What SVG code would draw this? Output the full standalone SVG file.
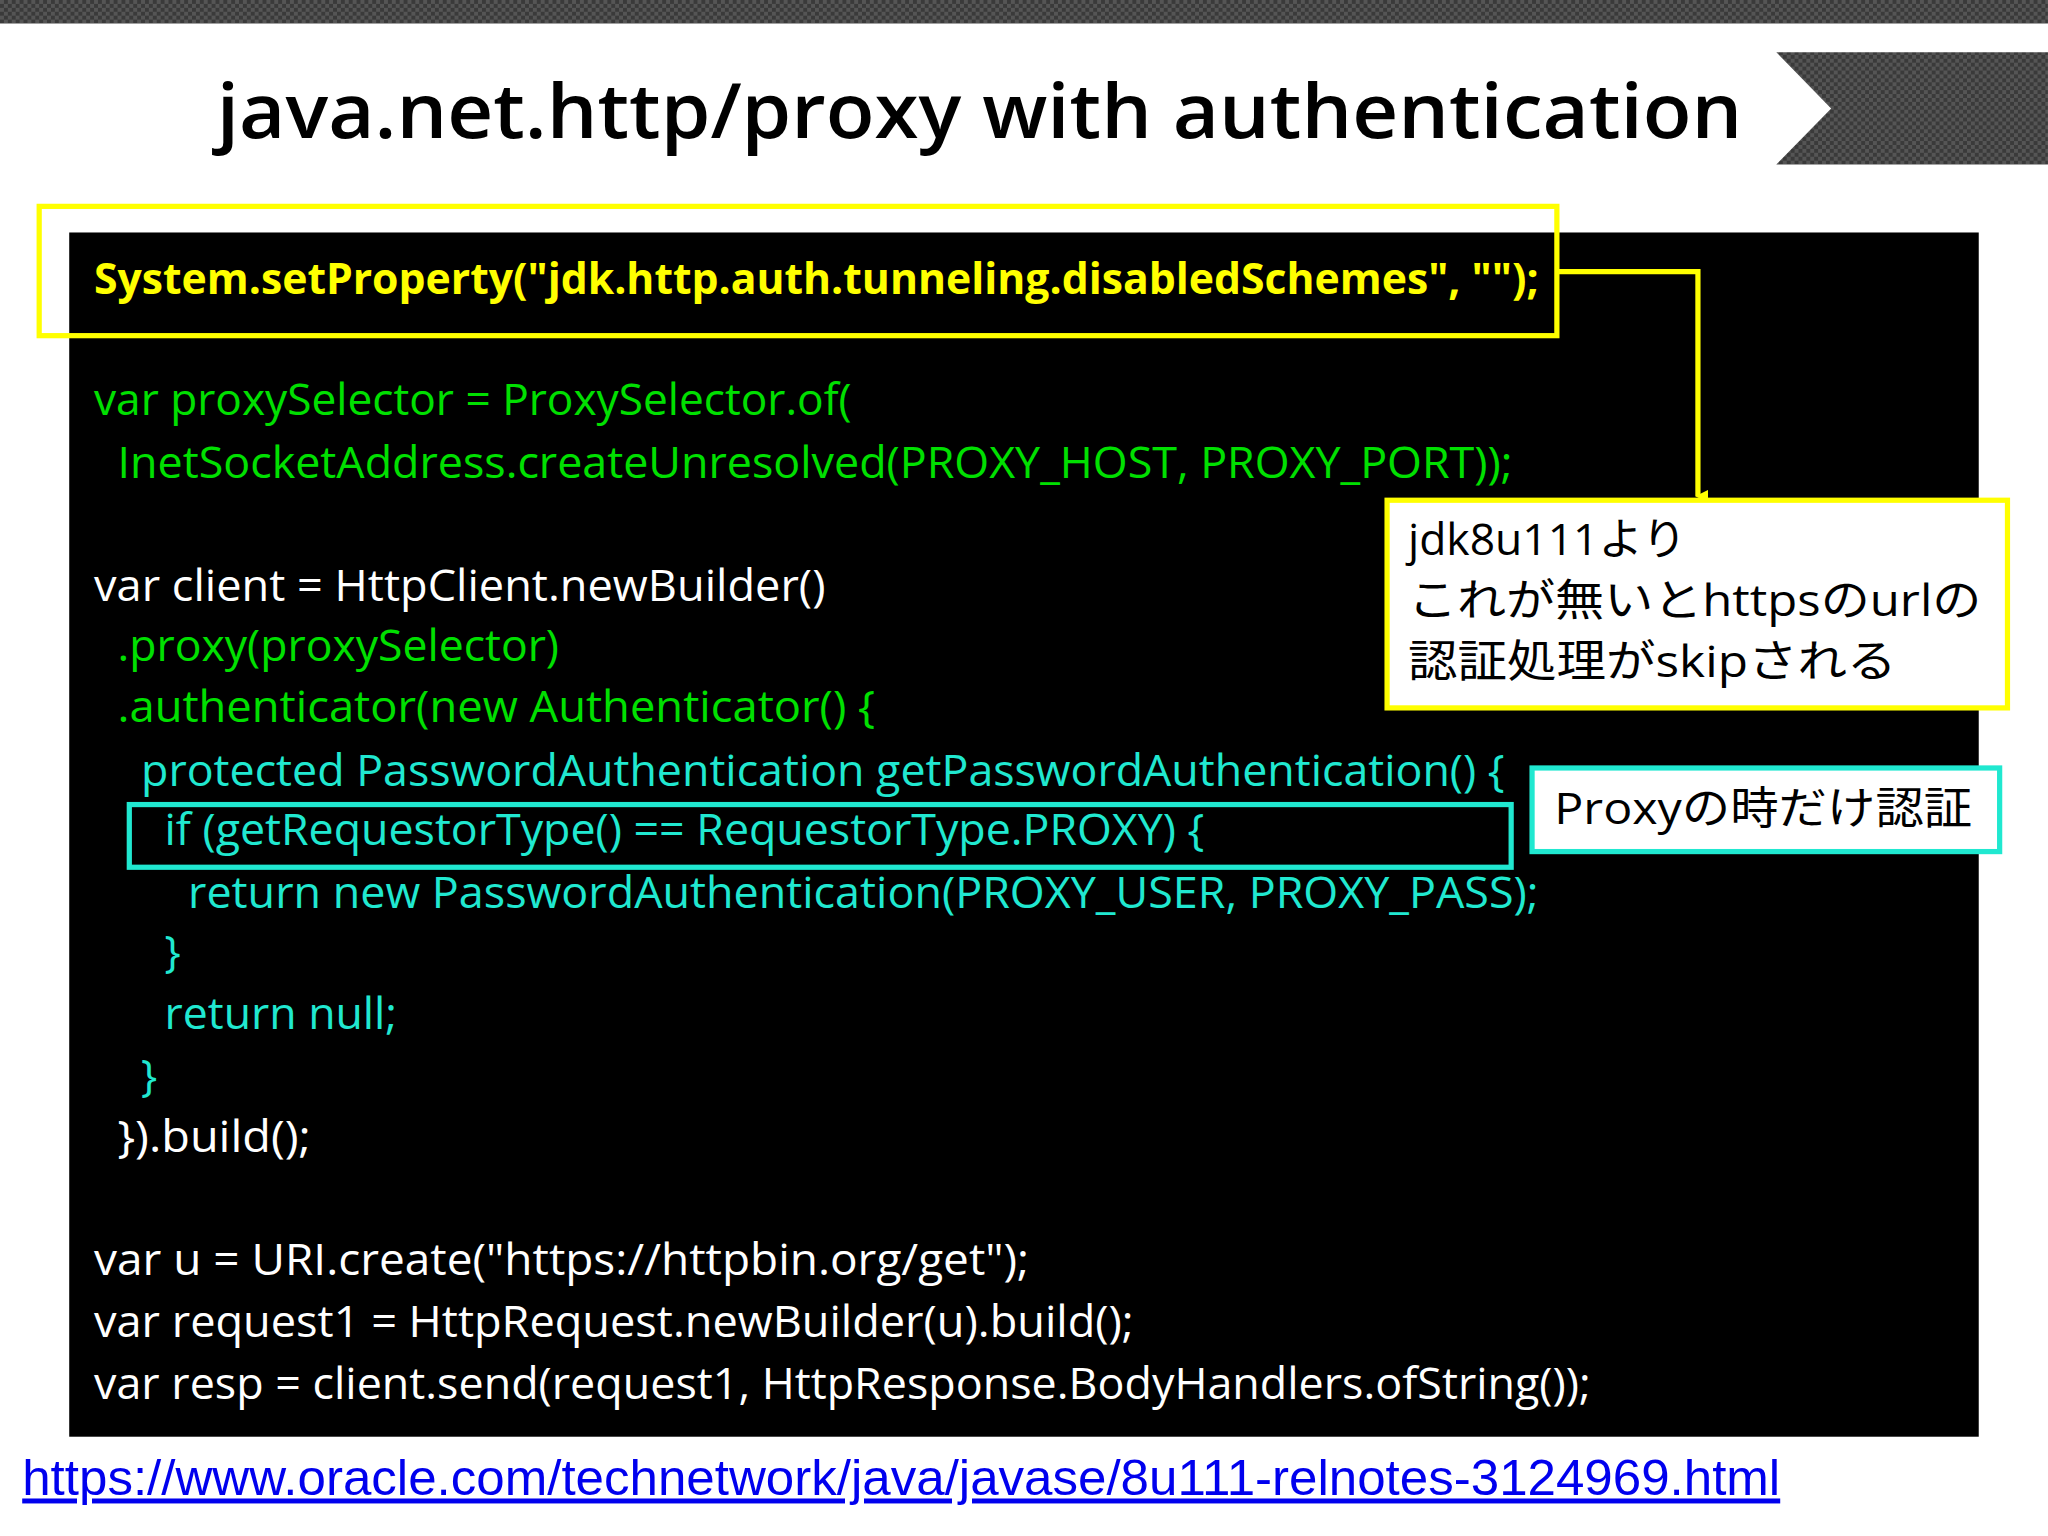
<svg xmlns="http://www.w3.org/2000/svg" width="2048" height="1536" viewBox="0 0 2048 1536">
<defs>
<pattern id="chk" width="6" height="6" patternUnits="userSpaceOnUse"><rect width="6" height="6" fill="#3a3a3a"/><rect width="3" height="3" fill="#555"/><rect x="3" y="3" width="3" height="3" fill="#555"/></pattern>
<marker id="ah" markerWidth="10" markerHeight="10" refX="5" refY="8" orient="auto" markerUnits="userSpaceOnUse" viewBox="0 0 10 10"><path d="M0,0 L10,0 L5,10 Z" fill="#ffff00"/></marker>
<style>
.c{font-family:"Open Sans","Noto Sans CJK JP",sans-serif;font-size:33px}
.y{fill:#ffff00;font-weight:bold}
.g{fill:#00e000}
.w{fill:#fff}
.t{fill:#20e8d0}
.j{font-family:"Open Sans","Noto Sans CJK JP",sans-serif;font-size:34px;fill:#000}
</style>
</defs>
<g transform="scale(1.3061)">
<rect width="1568" height="1176" fill="#fff"/>
<rect width="1568" height="18" fill="url(#chk)"/>
<polygon points="1360,40 1568,40 1568,126 1360,126 1402,83" fill="url(#chk)"/>
<text x="750" y="106" text-anchor="middle" font-family="Open Sans, sans-serif" font-size="58" font-weight="600" fill="#000" textLength="1168" lengthAdjust="spacingAndGlyphs">java.net.http/proxy with authentication</text>
<g id="code">
<rect x="53" y="178" width="1462" height="922" fill="#000"/>
<text class="c y" x="72" y="225" textLength="1106" lengthAdjust="spacingAndGlyphs">System.setProperty("jdk.http.auth.tunneling.disabledSchemes", "");</text>
<text class="c g" x="72" y="318" textLength="580" lengthAdjust="spacingAndGlyphs">var proxySelector = ProxySelector.of(</text>
<text class="c g" x="90" y="366" textLength="1068" lengthAdjust="spacingAndGlyphs">InetSocketAddress.createUnresolved(PROXY_HOST, PROXY_PORT));</text>
<text class="c w" x="72" y="460" textLength="560" lengthAdjust="spacingAndGlyphs">var client = HttpClient.newBuilder()</text>
<text class="c g" x="90" y="506" textLength="338" lengthAdjust="spacingAndGlyphs">.proxy(proxySelector)</text>
<text class="c g" x="90" y="553" textLength="580" lengthAdjust="spacingAndGlyphs">.authenticator(new Authenticator() {</text>
<text class="c t" x="108" y="602" textLength="1044" lengthAdjust="spacingAndGlyphs">protected PasswordAuthentication getPasswordAuthentication() {</text>
<text class="c t" x="126" y="647" textLength="796" lengthAdjust="spacingAndGlyphs">if (getRequestorType() == RequestorType.PROXY) {</text>
<text class="c t" x="144" y="695" textLength="1034" lengthAdjust="spacingAndGlyphs">return new PasswordAuthentication(PROXY_USER, PROXY_PASS);</text>
<text class="c t" x="126" y="740">}</text>
<text class="c t" x="126" y="788" textLength="178" lengthAdjust="spacingAndGlyphs">return null;</text>
<text class="c t" x="108" y="835">}</text>
<text class="c w" x="90" y="882" textLength="148" lengthAdjust="spacingAndGlyphs">}).build();</text>
<text class="c w" x="72" y="976" textLength="716" lengthAdjust="spacingAndGlyphs">var u = URI.create("https://httpbin.org/get");</text>
<text class="c w" x="72" y="1024" textLength="796" lengthAdjust="spacingAndGlyphs">var request1 = HttpRequest.newBuilder(u).build();</text>
<text class="c w" x="72" y="1071" textLength="1146" lengthAdjust="spacingAndGlyphs">var resp = client.send(request1, HttpResponse.BodyHandlers.ofString());</text>
</g>
<g id="hl-yellow"><rect x="30" y="158" width="1162" height="99" fill="none" stroke="#ffff00" stroke-width="4"/></g>
<g id="hl-cyan"><rect x="99" y="616" width="1058" height="48" fill="none" stroke="#20e8d0" stroke-width="4"/></g>
<g id="connectors"><polyline points="1192,208 1300,208 1300,380" fill="none" stroke="#ffff00" stroke-width="4" marker-end="url(#ah)"/></g>
<g id="note1">
<rect x="1062" y="383" width="475" height="159" fill="#fff" stroke="#ffff00" stroke-width="4"/>
<text class="j" x="1078" y="425">jdk8u111より</text>
<text class="j" x="1078" y="472" textLength="439" lengthAdjust="spacingAndGlyphs">これが無いとhttpsのurlの</text>
<text class="j" x="1078" y="518" textLength="374" lengthAdjust="spacingAndGlyphs">認証処理がskipされる</text>
</g>
<g id="note2">
<rect x="1173" y="588" width="358" height="64" fill="#fff" stroke="#20e8d0" stroke-width="4"/>
<text class="j" x="1190" y="631" textLength="320" lengthAdjust="spacingAndGlyphs">Proxyの時だけ認証</text>
</g>
<text x="17" y="1145" font-family="Liberation Sans, Arial, sans-serif" font-size="38" fill="#0000ee" text-decoration="underline" textLength="1346" lengthAdjust="spacingAndGlyphs">https://www.oracle.com/technetwork/java/javase/8u111-relnotes-3124969.html</text>
</g>
</svg>
